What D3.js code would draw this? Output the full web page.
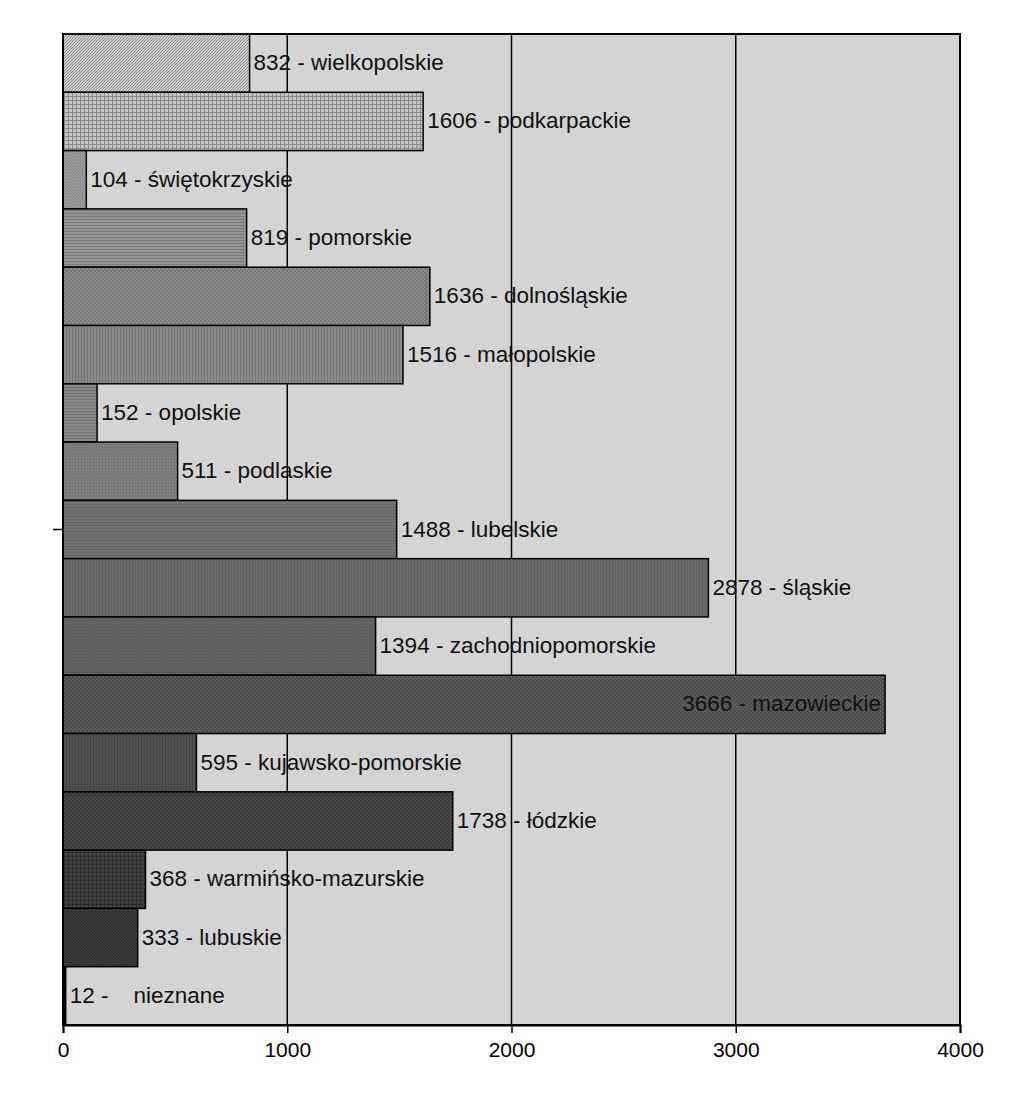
<!DOCTYPE html>
<html><head><meta charset="utf-8">
<script src="https://cdn.jsdelivr.net/npm/d3@7"></script>
<style>body{margin:0;background:#fff}svg{display:block}text{font-family:"Liberation Sans",Arial,sans-serif}</style>
</head><body><svg id="c" width="1024" height="1119"></svg>
<script>
const categories = ["wielkopolskie","podkarpackie","świętokrzyskie","pomorskie","dolnośląskie","małopolskie","opolskie","podlaskie","lubelskie","śląskie","zachodniopomorskie","mazowieckie","kujawsko-pomorskie","łódzkie","warmińsko-mazurskie","lubuskie","nieznane"];
const values = [832,1606,104,819,1636,1516,152,511,1488,2878,1394,3666,595,1738,368,333,12];
const xTicks = [0,1000,2000,3000,4000];
// pattern styles: [type, base, line]
const patternStyles = [
  ["diag","#d0d0d0","#8a8a8a"],["grid","#c4c4c4","#8c8c8c"],["diag2","#a0a0a0","#7c7c7c"],
  ["hor","#959595","#787878"],["check","#8c8c8c","#777"],["vert","#8a8a8a","#717171"],
  ["hor","#8a8a8a","#727272"],["dots","#7d7d7d","#6a6a6a"],["hor","#727272","#676767"],
  ["vert","#6a6a6a","#606060"],["dots","#636363","#575757"],["check","#5c5c5c","#4c4c4c"],
  ["vert","#505050","#444"],["check","#484848","#3a3a3a"],["grid","#444444","#2c2c2c"],
  ["diag2","#3f3f3f","#262626"],["solid","#000","#000"]
];
const svg = d3.select("#c");
const m = {l:63, r:960, t:34, b:1025};
const x = d3.scaleLinear().domain([0,4000]).range([m.l,m.r]);
const y = d3.scaleBand().domain(categories).range([m.t,m.b]).padding(0);
const defs = svg.append("defs");
patternStyles.forEach((p,i)=>{
  const [type,base,line]=p;
  const s = (type==="grid"||type==="check")?4:3;
  const pat = defs.append("pattern").attr("id","p"+i).attr("patternUnits","userSpaceOnUse").attr("width",s).attr("height",s);
  pat.append("rect").attr("width",s).attr("height",s).attr("fill",base);
  if(type==="diag") pat.append("path").attr("d",`M0,${s} L${s},0`).attr("stroke",line).attr("stroke-width",1);
  if(type==="diag2") pat.append("path").attr("d",`M0,0 L${s},${s}`).attr("stroke",line).attr("stroke-width",1);
  if(type==="hor") pat.append("rect").attr("width",s).attr("height",1).attr("fill",line);
  if(type==="vert") pat.append("rect").attr("width",1).attr("height",s).attr("fill",line);
  if(type==="grid"){pat.append("rect").attr("width",s).attr("height",1).attr("fill",line);pat.append("rect").attr("width",1).attr("height",s).attr("fill",line);}
  if(type==="check"){pat.append("rect").attr("width",2).attr("height",2).attr("fill",line);pat.append("rect").attr("x",2).attr("y",2).attr("width",2).attr("height",2).attr("fill",line);}
  if(type==="dots") pat.append("rect").attr("width",1).attr("height",1).attr("fill",line);
});
// plot background
svg.append("rect").attr("x",m.l).attr("y",m.t).attr("width",m.r-m.l).attr("height",m.b-m.t).attr("fill","#d4d4d4");
// gridlines
svg.append("g").selectAll("line").data(xTicks.slice(1,-1)).join("line")
  .attr("x1",d=>x(d)).attr("x2",d=>x(d)).attr("y1",m.t).attr("y2",m.b).attr("stroke","#000").attr("stroke-width",1.5);
// bars
svg.append("g").selectAll("rect").data(values).join("rect")
  .attr("x",x(0)).attr("y",(d,i)=>y(categories[i]))
  .attr("width",d=>x(d)-x(0)).attr("height",y.bandwidth())
  .attr("fill",(d,i)=>`url(#p${i})`).attr("stroke","#000").attr("stroke-width",1.5);
// labels
svg.append("g").selectAll("text").data(values).join("text")
  .attr("x",(d,i)=> d>3300 ? x(d)-4 : x(d)+4)
  .attr("y",(d,i)=>y(categories[i])+y.bandwidth()/2+7)
  .attr("text-anchor",d=> d>3300 ? "end":"start")
  .attr("font-size",22.5).attr("fill","#111")
  .style("white-space","pre")
  .text((d,i)=> categories[i]==="nieznane" ? `${d} -    ${categories[i]}` : `${d} - ${categories[i]}`);
// frame
svg.append("rect").attr("x",m.l).attr("y",m.t).attr("width",m.r-m.l).attr("height",m.b-m.t).attr("fill","none").attr("stroke","#000").attr("stroke-width",2);
// x axis
const xa = svg.append("g").attr("transform",`translate(0,${m.b})`).call(d3.axisBottom(x).tickValues(xTicks).tickSize(8).tickFormat(d3.format("d")));
xa.select(".domain").attr("stroke","#000").attr("stroke-width",2);
xa.selectAll(".tick line").attr("stroke","#000").attr("stroke-width",1.5);
xa.selectAll(".tick text").attr("font-size",21).attr("font-family","Liberation Sans, Arial, sans-serif").attr("fill","#000").attr("dy","1.0em");
// y axis: single center tick
svg.append("line").attr("x1",m.l-10).attr("x2",m.l).attr("y1",(m.t+m.b)/2).attr("y2",(m.t+m.b)/2).attr("stroke","#000").attr("stroke-width",1.5);
</script></body></html>
